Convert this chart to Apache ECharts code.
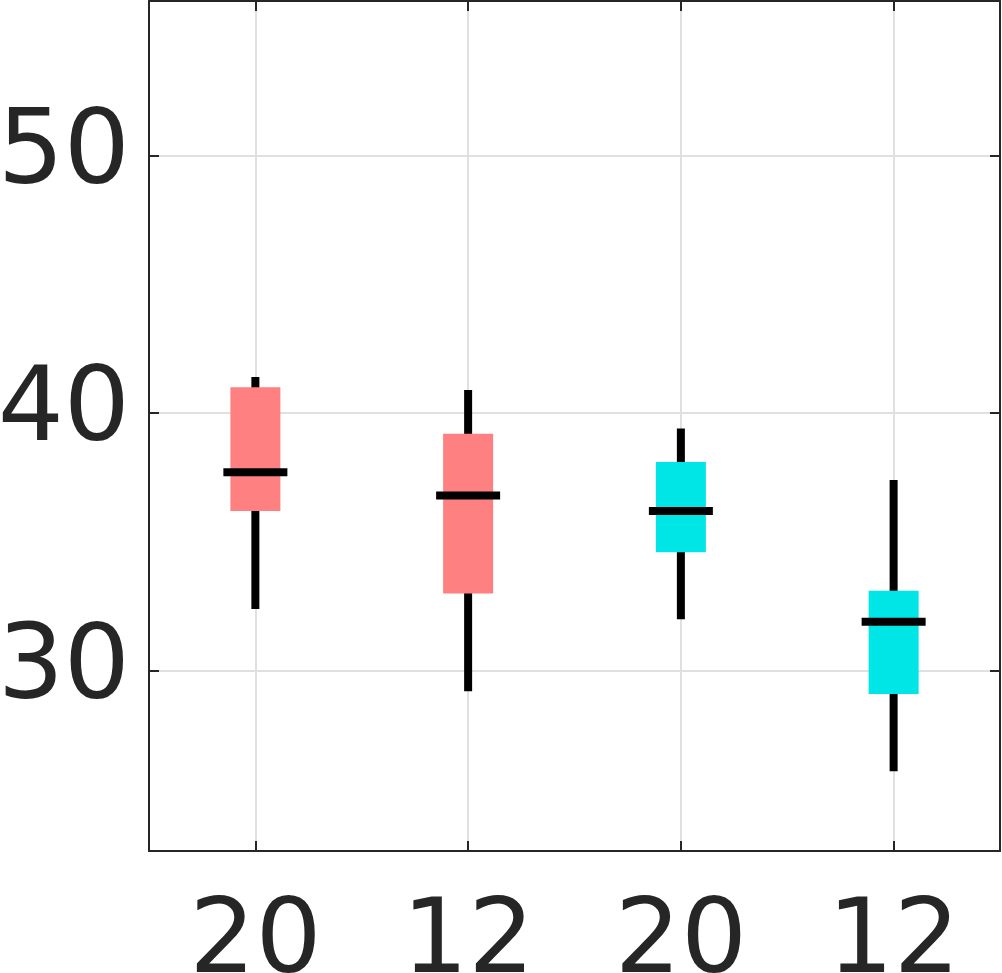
<!DOCTYPE html>
<html>
<head>
<meta charset="utf-8">
<script src="https://cdn.jsdelivr.net/npm/echarts@6/dist/echarts.min.js"></script>
<style>
html,body{margin:0;padding:0;background:#fff;}
#chart{width:1002px;height:973px;}
</style>
</head>
<body>
<div id="chart"></div>
<script>
// ---- data ----
var categories = ['20', '12', '20', '12'];
var groups = ['A', 'A', 'B', 'B'];
var whiskerLow = [32.4, 29.2, 32.0, 26.1];
var q1 = [36.2, 33.0, 34.6, 29.1];
var median = [37.7, 36.8, 36.2, 31.9];
var q3 = [41.0, 39.2, 38.1, 33.1];
var whiskerHigh = [41.4, 40.9, 39.4, 37.4];
var yTicks = [30, 40, 50];

var groupColor = { A: '#FF8080', B: '#00E6E6' };

var boxData = categories.map(function (c, i) {
  return [i, whiskerLow[i], q1[i], median[i], q3[i], whiskerHigh[i]];
});

var chart = echarts.init(document.getElementById('chart'), null, { renderer: 'canvas' });

var axisColor = '#262626';
var font = 'DejaVu Sans';

function renderBox(params, api) {
  var idx = api.value(0);
  var lo = api.coord([idx, api.value(1)]);
  var b1 = api.coord([idx, api.value(2)]);
  var md = api.coord([idx, api.value(3)]);
  var b3 = api.coord([idx, api.value(4)]);
  var hi = api.coord([idx, api.value(5)]);
  var x = lo[0];
  var boxW = 50, medW = 64;
  var color = groupColor[groups[params.dataIndex]];
  return {
    type: 'group',
    children: [
      { type: 'line', shape: { x1: x, y1: lo[1], x2: x, y2: hi[1] },
        style: { stroke: '#000', lineWidth: 8 } },
      { type: 'rect', shape: { x: x - boxW / 2, y: b3[1], width: boxW, height: b1[1] - b3[1] },
        style: { fill: color } },
      { type: 'line', shape: { x1: x - medW / 2, y1: md[1], x2: x + medW / 2, y2: md[1] },
        style: { stroke: '#000', lineWidth: 8 } }
    ]
  };
}

var option = {
  animation: false,
  backgroundColor: '#fff',
  grid: { left: 149, right: 2, top: 1, bottom: 122, containLabel: false, outerBoundsMode: 'none' },
  xAxis: [{
    type: 'category',
    data: categories,
    boundaryGap: true,
    position: 'bottom',
    axisLine: { show: true, lineStyle: { color: axisColor, width: 2 } },
    axisTick: { show: true, inside: true, length: 10, alignWithLabel: true, lineStyle: { color: axisColor, width: 2 } },
    axisLabel: { show: true, margin: 42, fontSize: 104, fontFamily: font, color: axisColor },
    splitLine: { show: true, alignWithLabel: true, lineStyle: { color: '#E0E0E0', width: 2 } }
  }, {
    type: 'category',
    data: categories,
    boundaryGap: true,
    position: 'top',
    axisLine: { show: true, lineStyle: { color: axisColor, width: 2 } },
    axisTick: { show: true, inside: true, length: 10, alignWithLabel: true, lineStyle: { color: axisColor, width: 2 } },
    axisLabel: { show: false },
    splitLine: { show: false }
  }],
  yAxis: [{
    type: 'value',
    min: 23, max: 56, splitNumber: 3,
    position: 'left',
    axisLine: { show: true, lineStyle: { color: axisColor, width: 2 } },
    axisTick: { show: true, inside: true, length: 10, lineStyle: { color: axisColor, width: 2 } },
    axisLabel: { show: true, margin: 19, fontSize: 104, fontFamily: font, color: axisColor,
      showMinLabel: false, showMaxLabel: false,
      formatter: function (v) { return yTicks.indexOf(v) >= 0 ? String(v) : ''; } },
    splitLine: { show: true, lineStyle: { color: '#E0E0E0', width: 2 } }
  }, {
    type: 'value',
    min: 23, max: 56, splitNumber: 3,
    position: 'right',
    axisLine: { show: true, lineStyle: { color: axisColor, width: 2 } },
    axisTick: { show: true, inside: true, length: 10, lineStyle: { color: axisColor, width: 2 } },
    axisLabel: { show: false },
    splitLine: { show: false }
  }],
  series: [{
    type: 'custom',
    xAxisIndex: 0,
    yAxisIndex: 0,
    renderItem: renderBox,
    encode: { x: 0, y: [1, 2, 3, 4, 5] },
    data: boxData,
    z: 5
  }]
};
chart.setOption(option);
</script>
</body>
</html>
